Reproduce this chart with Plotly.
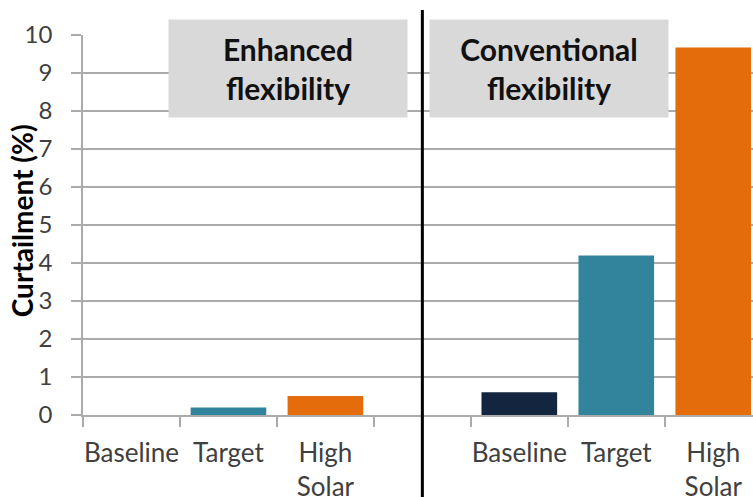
import plotly.graph_objects as go

# Data
scenarios = ["Baseline", "Target", "High<br>Solar"]
enhanced = [0.0, 0.2, 0.5]
conventional = [0.6, 4.2, 9.67]
scenario_colors = ["#14253F", "#31849B", "#E46C0A"]
panel_titles = ["Enhanced<br>flexibility", "Conventional<br>flexibility"]
y_title = "Curtailment (%)"

# Build the category axis: enhanced group, spacer, conventional group
cat_ids = ["e0", "e1", "e2", "gap", "c0", "c1", "c2"]
cat_labels = scenarios + [""] + scenarios
values = enhanced + [None] + conventional
colors = scenario_colors + ["#FFFFFF"] + scenario_colors

FONT = "Lato"
GRID = "#ABABAB"

fig = go.Figure()
fig.add_trace(go.Bar(
    x=cat_ids, y=values, marker=dict(color=colors, line=dict(width=0)),
    width=0.78, showlegend=False, hoverinfo="y",
))

fig.update_layout(
    width=753, height=497,
    margin=dict(l=83, r=0, t=35, b=82),
    paper_bgcolor="white", plot_bgcolor="white",
    font=dict(family=FONT, color="#404040", size=24),
    bargap=0.22,
)

fig.update_xaxes(
    type="category", categoryorder="array", categoryarray=cat_ids,
    tickmode="array", tickvals=cat_ids, ticktext=cat_labels,
    tickson="boundaries", ticks="outside", ticklen=10, tickcolor=GRID, tickwidth=1.5,
    showline=True, linecolor=GRID, linewidth=1.5,
    showgrid=False, range=[-0.5, 6.41],
    tickangle=0, automargin=False,
    tickfont=dict(family=FONT, size=26, color="#404040"),
    ticklabelstandoff=14,
)
fig.update_yaxes(
    range=[0, 10], dtick=1, tick0=0,
    showgrid=True, gridcolor=GRID, gridwidth=1.5,
    showline=True, linecolor=GRID, linewidth=1.5,
    ticks="outside", ticklen=10, tickcolor=GRID, tickwidth=1.5,
    zeroline=False, automargin=False,
    tickfont=dict(family=FONT, size=24, color="#404040"),
    ticklabelstandoff=14,
)

# Y axis title
fig.add_annotation(
    xref="paper", yref="paper", x=-0.091, y=0.51, xanchor="center", yanchor="middle",
    text=y_title, textangle=-90, showarrow=False,
    font=dict(family=FONT, size=28, color="#000000", weight="bold"),
)

# Vertical separator between the two panels
fig.add_shape(type="line", xref="x", yref="paper", x0=3, x1=3, y0=-0.3, y1=1.066,
              line=dict(color="black", width=3))

# Panel title boxes
box_x = [0.306, 0.6955]
for bx, txt in zip(box_x, panel_titles):
    fig.add_annotation(
        xref="paper", yref="paper", x=bx, y=0.912, xanchor="center", yanchor="middle",
        text=txt, showarrow=False, bgcolor="#D9D9D9", borderpad=0,
        width=238, height=97, align="center",
        font=dict(family=FONT, size=30, color="#111111", weight="bold"),
    )

fig.write_html("out.html")
